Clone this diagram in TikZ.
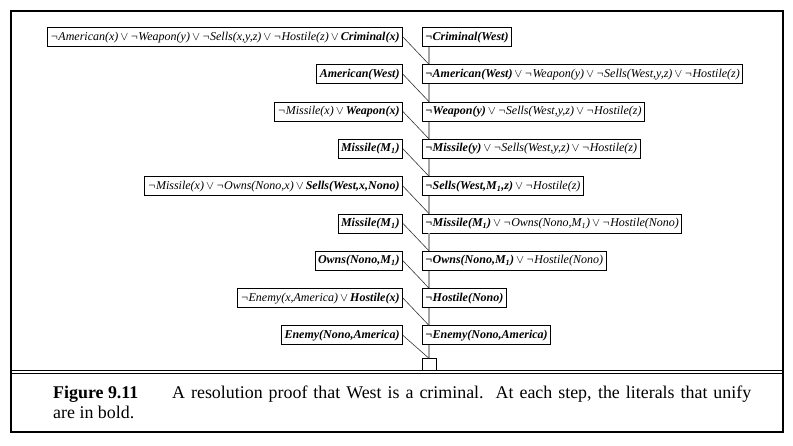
\documentclass[tikz,border=0pt]{standalone}
\usepackage{fontspec}
\setmainfont{Liberation Serif}
\usepackage{tikz}
\usetikzlibrary{positioning}

\newcommand{\disj}{\,$\vee$\,}
\newcommand{\Mone}{M\textsubscript{1}}

\begin{document}
\begin{tikzpicture}[
    x=1pt, y=1pt,
    node distance=17.4pt,
    clause/.style={rectangle, draw=black, line width=0.9pt, fill=white, inner xsep=3pt, inner ysep=3.5pt, text height=9pt, text depth=3pt, font=\fontsize{12}{14}\selectfont\itshape},
    goal/.style={clause},
    spine/.style={line width=2pt, black!35},
    link/.style={line width=0.6pt, black!80},
    captext/.style={anchor=base west, inner sep=0pt, font=\fontsize{17.9}{20}\selectfont}
]
\useasboundingbox (0,0) rectangle (793,-445);

% frame and caption
\draw[line width=1.2pt] (11,-11) rectangle (783,-432);
\draw[line width=0.9pt] (11,-370) -- (783,-370);
\draw[line width=0.9pt] (11,-373.5) -- (783,-373.5);
\node[captext, font=\fontsize{17.9}{20}\selectfont\bfseries] (fig) at (53,-398) {Figure 9.11};
\node[captext] (cap1) at (172,-398) {\makebox[579pt][s]{A resolution proof that West is a criminal.\ \ At each step, the literals that unify}};
\node[captext] (cap2) at (53,-418) {are in bold.};

\coordinate (spine) at (429,0);

% resolvents, top to bottom
\node[goal, anchor=west] (r0) at (422,-37) {\textbf{¬Criminal(West)}};
\node[clause, below right=17.4pt and 0pt of r0.south west] (r1) {\textbf{¬American(West)}\disj ¬Weapon(y)\disj ¬Sells(West,y,z)\disj ¬Hostile(z)};
\node[clause, below right=17.4pt and 0pt of r1.south west] (r2) {\textbf{¬Weapon(y)}\disj ¬Sells(West,y,z)\disj ¬Hostile(z)};
\node[clause, below right=17.4pt and 0pt of r2.south west] (r3) {\textbf{¬Missile(y)}\disj ¬Sells(West,y,z)\disj ¬Hostile(z)};
\node[clause, below right=17.4pt and 0pt of r3.south west] (r4) {\textbf{¬Sells(West,\Mone,z)}\disj ¬Hostile(z)};
\node[clause, below right=17.4pt and 0pt of r4.south west] (r5) {\textbf{¬Missile(\Mone)}\disj ¬Owns(Nono,\Mone)\disj ¬Hostile(Nono)};
\node[clause, below right=17.4pt and 0pt of r5.south west] (r6) {\textbf{¬Owns(Nono,\Mone)}\disj ¬Hostile(Nono)};
\node[clause, below right=17.4pt and 0pt of r6.south west] (r7) {\textbf{¬Hostile(Nono)}};
\node[clause, below right=17.4pt and 0pt of r7.south west] (r8) {\textbf{¬Enemy(Nono,America)}};
\node[draw, line width=0.9pt, fill=white, minimum width=14pt, minimum height=12pt, inner sep=0pt, below right=13pt and 0pt of r8.south west] (r9) {};

% knowledge base clauses
\node[clause, left=19pt of r0] (l0) {¬American(x)\disj ¬Weapon(y)\disj ¬Sells(x,y,z)\disj ¬Hostile(z)\disj \textbf{Criminal(x)}};
\node[clause, left=19pt of r1] (l1) {\textbf{American(West)}};
\node[clause, left=19pt of r2] (l2) {¬Missile(x)\disj \textbf{Weapon(x)}};
\node[clause, left=19pt of r3] (l3) {\textbf{Missile(\Mone)}};
\node[clause, left=19pt of r4] (l4) {¬Missile(x)\disj ¬Owns(Nono,x)\disj \textbf{Sells(West,x,Nono)}};
\node[clause, left=19pt of r5] (l5) {\textbf{Missile(\Mone)}};
\node[clause, left=19pt of r6] (l6) {\textbf{Owns(Nono,\Mone)}};
\node[clause, left=19pt of r7] (l7) {¬Enemy(x,America)\disj \textbf{Hostile(x)}};
\node[clause, left=19pt of r8] (l8) {\textbf{Enemy(Nono,America)}};

% spine
\draw[spine] (r0.south -| spine) -- (r1.north -| spine);
\draw[spine] (r1.south -| spine) -- (r2.north -| spine);
\draw[spine] (r2.south -| spine) -- (r3.north -| spine);
\draw[spine] (r3.south -| spine) -- (r4.north -| spine);
\draw[spine] (r4.south -| spine) -- (r5.north -| spine);
\draw[spine] (r5.south -| spine) -- (r6.north -| spine);
\draw[spine] (r6.south -| spine) -- (r7.north -| spine);
\draw[spine] (r7.south -| spine) -- (r8.north -| spine);
\draw[spine] (r8.south -| spine) -- (r9.north -| spine);

% resolution links
\draw[link] (l0.east) -- (r1.north -| spine);
\draw[link] (l1.east) -- (r2.north -| spine);
\draw[link] (l2.east) -- (r3.north -| spine);
\draw[link] (l3.east) -- (r4.north -| spine);
\draw[link] (l4.east) -- (r5.north -| spine);
\draw[link] (l5.east) -- (r6.north -| spine);
\draw[link] (l6.east) -- (r7.north -| spine);
\draw[link] (l7.east) -- (r8.north -| spine);
\draw[link] (l8.east) -- (r9.north -| spine);

\end{tikzpicture}
\end{document}
